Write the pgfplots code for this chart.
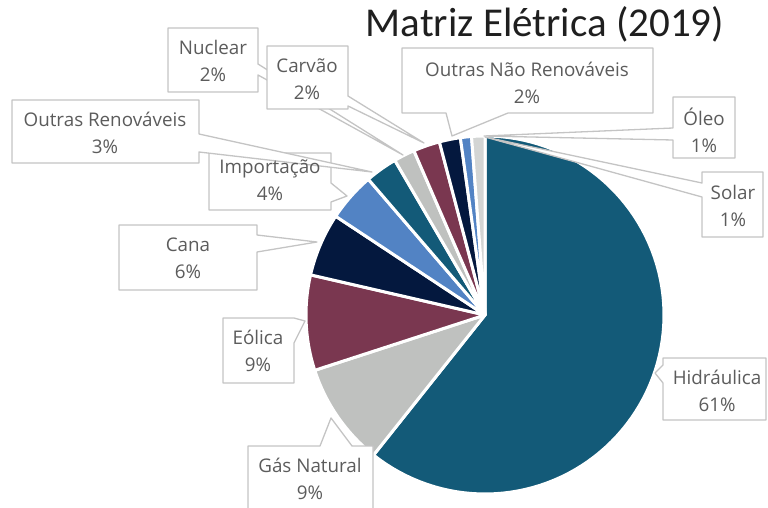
\documentclass[border=0pt]{standalone}
\usepackage{pgfplots}
\pgfplotsset{compat=1.18}
\usepackage{fontspec}
\setmainfont{Open Sans}
\newfontfamily\titlefont{Carlito}
\definecolor{cTeal}{HTML}{135A78}
\definecolor{cGray}{HTML}{BFC1BF}
\definecolor{cMaroon}{HTML}{7A3750}
\definecolor{cNavy}{HTML}{04183E}
\definecolor{cBlue}{HTML}{5283C4}
\definecolor{cLight}{HTML}{D3D5D4}
\definecolor{boxgray}{HTML}{C4C4C4}
\definecolor{labtext}{HTML}{5C5C5C}

\xdef\cum{0}
\newcommand\slice[2]{%
  \pgfmathsetmacro\angA{3.6*\cum}%
  \pgfmathsetmacro\angB{3.6*(\cum+#1)}%
  \edef\temp{\noexpand\addplot[fill=#2, draw=white, line width=3pt, line join=round, domain=\angA:\angB, samples=90, variable=\noexpand\t] ({485+179*sin(\noexpand\t)},{315-179*cos(\noexpand\t)}) -- (axis cs:485,315) -- cycle;}%
  \temp
  \pgfmathsetmacro\tmp{\cum+#1}\xdef\cum{\tmp}%
}
\newcommand\lab[3]{\node[align=center, text=labtext, font=\fontsize{18.8}{27}\selectfont, inner sep=0pt] at (#1) {#2\\#3};}
\tikzset{callout/.style={fill=white, draw=boxgray, line width=1.3pt, line join=round}}

\begin{document}
\begin{tikzpicture}
\begin{axis}[width=768pt, height=508pt, scale only axis,
  xmin=0, xmax=768, ymin=0, ymax=508, y dir=reverse,
  axis lines=none, clip=false]
% slices, clockwise from 12 o'clock (percent)
\slice{60.7}{cTeal}   % Hidraulica
\slice{9.3}{cGray}    % Gas Natural
\slice{8.6}{cMaroon}  % Eolica
\slice{5.7}{cNavy}    % Cana
\slice{4.4}{cBlue}    % Importacao
\slice{2.9}{cTeal}    % Outras Renovaveis
\slice{1.9}{cGray}    % Nuclear
\slice{2.4}{cMaroon}  % Carvao
\slice{1.9}{cNavy}    % Outras Nao Renovaveis
\slice{1.0}{cBlue}    % Oleo
\slice{1.2}{cLight}   % Solar

% callout boxes
\draw[callout] (663,358) -- (766,358) -- (766,420) -- (663,420) -- (663,383) -- (655,373) -- (663,365) -- cycle;
\draw[callout] (248,446) -- (320,446) -- (331,418) -- (352,446) -- (373,446) -- (373,512) -- (248,512) -- cycle;
\draw[callout] (223,318) -- (294,318) -- (305,321) -- (294,343) -- (294,383) -- (223,383) -- cycle;
\draw[callout] (119,225) -- (257,225) -- (257,235) -- (317,242) -- (257,252) -- (257,290) -- (119,290) -- cycle;
\draw[callout] (209,153) -- (331,153) -- (331,183) -- (347,196) -- (331,202) -- (331,210) -- (209,210) -- cycle;
\draw[callout] (12,100) -- (199,100) -- (199,134) -- (372,172) -- (199,152) -- (199,163) -- (12,163) -- cycle;
\draw[callout] (168,28) -- (258,28) -- (258,64) -- (403,155) -- (258,75) -- (258,92) -- (168,92) -- cycle;
\draw[callout] (267,46) -- (348,46) -- (348,96) -- (424,143) -- (348,106) -- (348,109) -- (267,109) -- cycle;
\draw[callout] (402,48) -- (653,48) -- (653,113) -- (508,113) -- (452,136) -- (446,113) -- (402,113) -- cycle;
\draw[callout] (673,97) -- (735,97) -- (735,158) -- (673,158) -- (673,140) -- (484,136) -- (673,128) -- cycle;
\draw[callout] (702,172) -- (763,172) -- (763,237) -- (702,237) -- (702,197) -- (485,137) -- (702,183) -- cycle;

% labels
\lab{717,391}{Hidráulica}{61\%}
\lab{310,479}{Gás Natural}{9\%}
\lab{258,351}{Eólica}{9\%}
\lab{188,258}{Cana}{6\%}
\lab{270,180}{Importação}{4\%}
\lab{105,133}{Outras Renováveis}{3\%}
\lab{213,61}{Nuclear}{2\%}
\lab{307,79}{Carvão}{2\%}
\lab{527,83}{Outras Não Renováveis}{2\%}
\lab{704,130}{Óleo}{1\%}
\lab{733,206}{Solar}{1\%}

\node[font=\titlefont\fontsize{41}{44}\selectfont, text=black!88] at (545,24) {Matriz Elétrica (2019)};
\end{axis}
\pgfresetboundingbox
\path (0,0) rectangle (768pt,508pt);
\end{tikzpicture}
\end{document}
